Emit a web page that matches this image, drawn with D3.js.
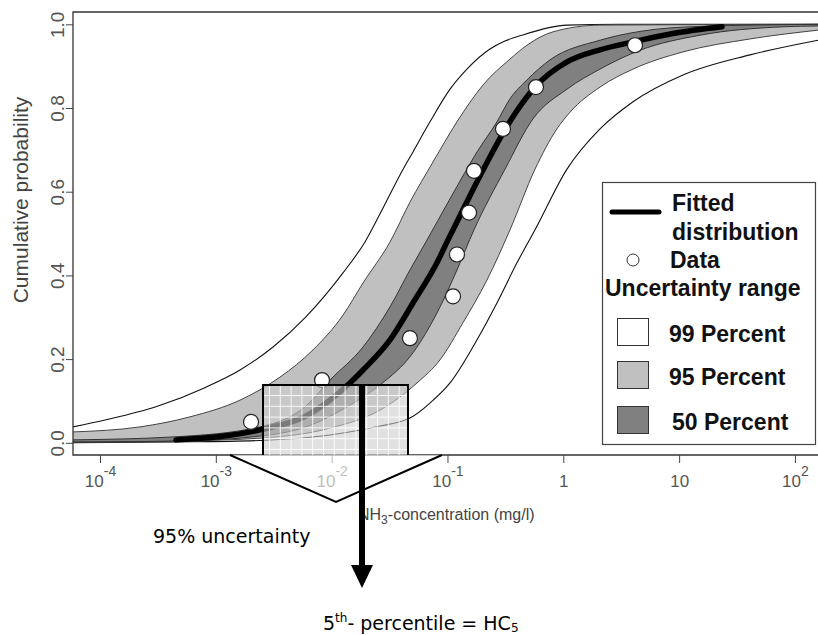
<!DOCTYPE html>
<html><head><meta charset="utf-8">
<script src="https://cdn.jsdelivr.net/npm/d3@7"></script>
<style>body{margin:0;background:#fff}svg{display:block}</style>
</head><body>
<svg id="c" width="818" height="635"></svg>
<script>
// ---- data: log10 of NH3 concentration (mg/l) and cumulative probability ----
const pointLogConc = [-2.696, -2.083, -1.324, -0.952, -0.918, -0.814, -0.771, -0.521, -0.236, 0.619];
const pointProb    = [0.05, 0.15, 0.25, 0.35, 0.45, 0.55, 0.65, 0.75, 0.85, 0.95];

const fittedCurve = [[-3.344,0.007],[-2.619,0.031],[-2.222,0.064],[-1.842,0.143],[-1.729,0.174],[-1.496,0.246],[-1.298,0.334],[-1.091,0.430],[-1.004,0.480],[-0.875,0.552],[-0.702,0.647],[-0.529,0.736],[-0.409,0.790],[-0.244,0.850],[0.032,0.910],[0.317,0.939],[0.602,0.958],[0.947,0.978],[1.370,0.994]];

const band50Left  = [[-4.233,0.007],[-3.370,0.014],[-2.619,0.038],[-2.222,0.088],[-2.014,0.150],[-1.729,0.229],[-1.496,0.325],[-1.324,0.413],[-1.186,0.480],[-0.978,0.583],[-0.745,0.695],[-0.573,0.767],[-0.460,0.822],[-0.314,0.867],[-0.115,0.915],[0.317,0.962],[0.662,0.983],[1.180,0.995],[2.199,1.0]];
const band50Right = [[-4.233,0.002],[-3.344,0.004],[-2.619,0.016],[-2.222,0.038],[-1.842,0.090],[-1.583,0.138],[-1.298,0.215],[-1.091,0.310],[-0.918,0.413],[-0.771,0.509],[-0.503,0.654],[-0.262,0.774],[0.032,0.845],[0.317,0.893],[0.662,0.938],[1.180,0.974],[1.897,0.994],[2.199,0.996]];

const band95Left  = [[-4.233,0.026],[-3.655,0.038],[-3.223,0.062],[-2.791,0.102],[-2.446,0.157],[-2.161,0.222],[-1.902,0.305],[-1.729,0.382],[-1.496,0.480],[-1.324,0.575],[-1.125,0.671],[-0.918,0.767],[-0.693,0.855],[-0.460,0.917],[-0.314,0.950],[-0.089,0.982],[0.317,0.998],[2.199,1.0]];
const band95Right = [[-4.233,0.001],[-3.344,0.004],[-2.619,0.011],[-2.014,0.035],[-1.583,0.078],[-1.263,0.143],[-1.065,0.198],[-0.866,0.287],[-0.659,0.389],[-0.460,0.509],[-0.244,0.654],[-0.055,0.750],[0.058,0.790],[0.317,0.850],[0.602,0.893],[1.033,0.934],[1.612,0.965],[2.199,0.986]];

const band99Left  = [[-4.233,0.038],[-3.948,0.055],[-3.517,0.086],[-3.085,0.133],[-2.791,0.174],[-2.506,0.229],[-2.222,0.301],[-1.902,0.406],[-1.712,0.480],[-1.531,0.575],[-1.410,0.640],[-1.298,0.695],[-1.151,0.767],[-0.978,0.845],[-0.832,0.893],[-0.633,0.941],[-0.504,0.960],[-0.357,0.974],[0.032,0.998],[0.489,1.0],[2.199,1.0]];
const band99Right = [[-4.233,0.0005],[-3.344,0.002],[-2.619,0.0055],[-2.014,0.0186],[-1.583,0.040],[-1.324,0.059],[-1.151,0.095],[-0.978,0.143],[-0.745,0.246],[-0.573,0.334],[-0.400,0.430],[-0.244,0.509],[0.032,0.654],[0.317,0.750],[0.602,0.815],[1.033,0.879],[1.612,0.927],[2.199,0.962]];

const yTicks = [0, 0.2, 0.4, 0.6, 0.8, 1.0];
const yTickLabels = ["0.0", "0.2", "0.4", "0.6", "0.8", "1.0"];
const xTickExp = [-4, -3, -2, -1, 0, 1, 2];
const xTickBase = ["10", "10", "10", "10", "1", "10", "10"];
const xTickSup  = ["-4", "-3", "-2", "-1", "", "", "2"];

const legendLabels = ["99 Percent", "95 Percent", "50 Percent"];
const legendFills  = ["#ffffff", "#c0c0c0", "#808080"];

// ---- scales ----
const svg = d3.select("#c");
const P = {left: 73, top: 12, bottom: 455, right: 830};
const x = d3.scaleLog().domain([Math.pow(10, -4.233), Math.pow(10, 2.299)]).range([73, 829.6]);
const y = d3.scaleLinear().domain([0, 1]).range([442.8, 24.3]);

svg.append("rect").attr("width", 818).attr("height", 635).attr("fill", "#fff");
svg.append("defs").append("clipPath").attr("id", "clip")
  .append("rect").attr("x", P.left).attr("y", P.top).attr("width", P.right - P.left).attr("height", P.bottom - P.top);

const line = d3.line().x(d => x(Math.pow(10, d[0]))).y(d => y(d[1])).curve(d3.curveMonotoneX);
const bandPath = (lo, hi) => line(lo) + line(hi.slice().reverse()).replace(/^M/, "L") + "Z";

const g = svg.append("g").attr("clip-path", "url(#clip)");
g.append("path").attr("d", bandPath(band99Left, band99Right)).attr("fill", "#ffffff");
g.append("path").attr("d", bandPath(band95Left, band95Right)).attr("fill", "#c0c0c0");
g.append("path").attr("d", bandPath(band50Left, band50Right)).attr("fill", "#808080");
[[band99Left, "#111", 1.1], [band99Right, "#111", 1.1], [band95Left, "#444", 1], [band95Right, "#444", 1], [band50Left, "#333", 1], [band50Right, "#333", 1]]
  .forEach(([c, col, w]) => g.append("path").attr("d", line(c)).attr("fill", "none").attr("stroke", col).attr("stroke-width", w));
g.append("path").attr("d", line(fittedCurve)).attr("fill", "none").attr("stroke", "#000").attr("stroke-width", 5.5).attr("stroke-linecap", "round");
g.selectAll("circle.pt").data(pointLogConc).join("circle").attr("class", "pt")
  .attr("cx", d => x(Math.pow(10, d))).attr("cy", (d, i) => y(pointProb[i])).attr("r", 7.5)
  .attr("fill", "#fff").attr("stroke", "#222").attr("stroke-width", 1.2);

// frame
svg.append("path").attr("d", `M${P.right},${P.top}H${P.left}V${P.bottom}H${P.right}`)
  .attr("fill", "none").attr("stroke", "#333").attr("stroke-width", 1.3);

// y axis
const ya = svg.append("g").attr("transform", `translate(${P.left},0)`)
  .call(d3.axisLeft(y).tickValues(yTicks).tickSize(7).tickFormat((d, i) => yTickLabels[i]));
ya.select(".domain").remove();
ya.selectAll(".tick line").attr("stroke", "#444");
ya.selectAll(".tick text").attr("x", 0).attr("y", -9).attr("dy", null)
  .attr("transform", "rotate(-90)").attr("text-anchor", "middle")
  .attr("font-family", "Liberation Sans, Arial, sans-serif").attr("font-size", 19).attr("fill", "#555");

// x axis
const xa = svg.append("g").attr("transform", `translate(0,${P.bottom})`)
  .call(d3.axisBottom(x).tickValues(xTickExp.map(e => Math.pow(10, e))).tickSize(8).tickFormat(""));
xa.select(".domain").remove();
xa.selectAll(".tick line").attr("stroke", "#444");
xa.selectAll(".tick").each(function (d, i) {
  const t = d3.select(this).append("text").attr("y", 32).attr("text-anchor", "middle")
    .attr("font-family", "Liberation Sans, Arial, sans-serif").attr("font-size", 17).attr("fill", "#555");
  t.append("tspan").text(xTickBase[i]);
  if (xTickSup[i]) t.append("tspan").attr("dy", -11).attr("font-size", 14).text(xTickSup[i]);
});

// axis titles
svg.append("text").attr("transform", "translate(28,200) rotate(-90)").attr("text-anchor", "middle")
  .attr("font-family", "Liberation Sans, Arial, sans-serif").attr("font-size", 21).attr("fill", "#444")
  .text("Cumulative probability");
const xl = svg.append("text").attr("x", 358).attr("y", 520)
  .attr("font-family", "Liberation Sans, Arial, sans-serif").attr("font-size", 16).attr("fill", "#444");
xl.append("tspan").text("NH");
xl.append("tspan").attr("dy", 4).attr("font-size", 12).text("3");
xl.append("tspan").attr("dy", -4).text("-concentration (mg/l)");

// legend
const L = svg.append("g").attr("font-family", "Liberation Sans, Arial, sans-serif").attr("font-weight", "bold").attr("font-size", 23).attr("fill", "#111");
L.append("rect").attr("x", 602.5).attr("y", 182.5).attr("width", 213).attr("height", 262).attr("fill", "#fff").attr("stroke", "#444").attr("stroke-width", 1.2);
L.append("line").attr("x1", 612).attr("x2", 659).attr("y1", 212).attr("y2", 212).attr("stroke", "#000").attr("stroke-width", 5).attr("stroke-linecap", "round");
L.append("text").attr("x", 672).attr("y", 211).text("Fitted");
L.append("text").attr("x", 672).attr("y", 240).text("distribution");
L.append("circle").attr("cx", 633).attr("cy", 260).attr("r", 6).attr("fill", "#fff").attr("stroke", "#333").attr("stroke-width", 1);
L.append("text").attr("x", 670).attr("y", 268).text("Data");
L.append("text").attr("x", 605).attr("y", 296).text("Uncertainty range");
legendLabels.forEach((lab, i) => {
  const yy = [318, 361, 406][i];
  L.append("rect").attr("x", 617.5).attr("y", yy + 0.5).attr("width", 31).attr("height", 27).attr("fill", legendFills[i]).attr("stroke", "#333");
  L.append("text").attr("x", i === 2 ? 672 : 669).attr("y", yy + 16).attr("dy", "0.35em").text(lab);
});

// magnifier annotation
const box = {x0: 263, x1: 408, y0: 385, y1: 455};
svg.append("rect").attr("x", box.x0).attr("y", box.y0).attr("width", box.x1 - box.x0).attr("height", box.y1 - box.y0)
  .attr("fill", "rgba(205,205,205,0.6)");
const grid = svg.append("g").attr("stroke", "#fff").attr("stroke-width", 1).attr("opacity", 0.9);
d3.range(box.x0 + 6.5, box.x1, 10.8).forEach(v => grid.append("line").attr("x1", v).attr("x2", v).attr("y1", box.y0).attr("y2", box.y1));
d3.range(box.y0 + 10.5, box.y1, 10.8).forEach(v => grid.append("line").attr("x1", box.x0).attr("x2", box.x1).attr("y1", v).attr("y2", v));
svg.append("path").attr("d", `M${box.x0},${box.y1}V${box.y0}H${box.x1}V${box.y1}`).attr("fill", "none").attr("stroke", "#000").attr("stroke-width", 2);
svg.append("path").attr("d", "M230,455L336,502L442,455").attr("fill", "rgba(255,255,255,0.62)").attr("stroke", "#000").attr("stroke-width", 2);
svg.append("rect").attr("x", 359).attr("y", 385).attr("width", 6).attr("height", 182).attr("fill", "#000");
svg.append("path").attr("d", "M351,565L373,565L362,588Z").attr("fill", "#000");

const ann = svg.append("g").attr("font-family", "DejaVu Sans, Verdana, sans-serif").attr("font-size", 19).attr("fill", "#000");
ann.append("text").attr("x", 153).attr("y", 543).text("95% uncertainty");
const hc = ann.append("text").attr("x", 323).attr("y", 630);
hc.append("tspan").text("5");
hc.append("tspan").attr("dy", -8).attr("font-size", 12).text("th");
hc.append("tspan").attr("dy", 8).text("- percentile = HC");
hc.append("tspan").attr("dy", 2).attr("font-size", 12).text("5");
</script>
</body></html>
